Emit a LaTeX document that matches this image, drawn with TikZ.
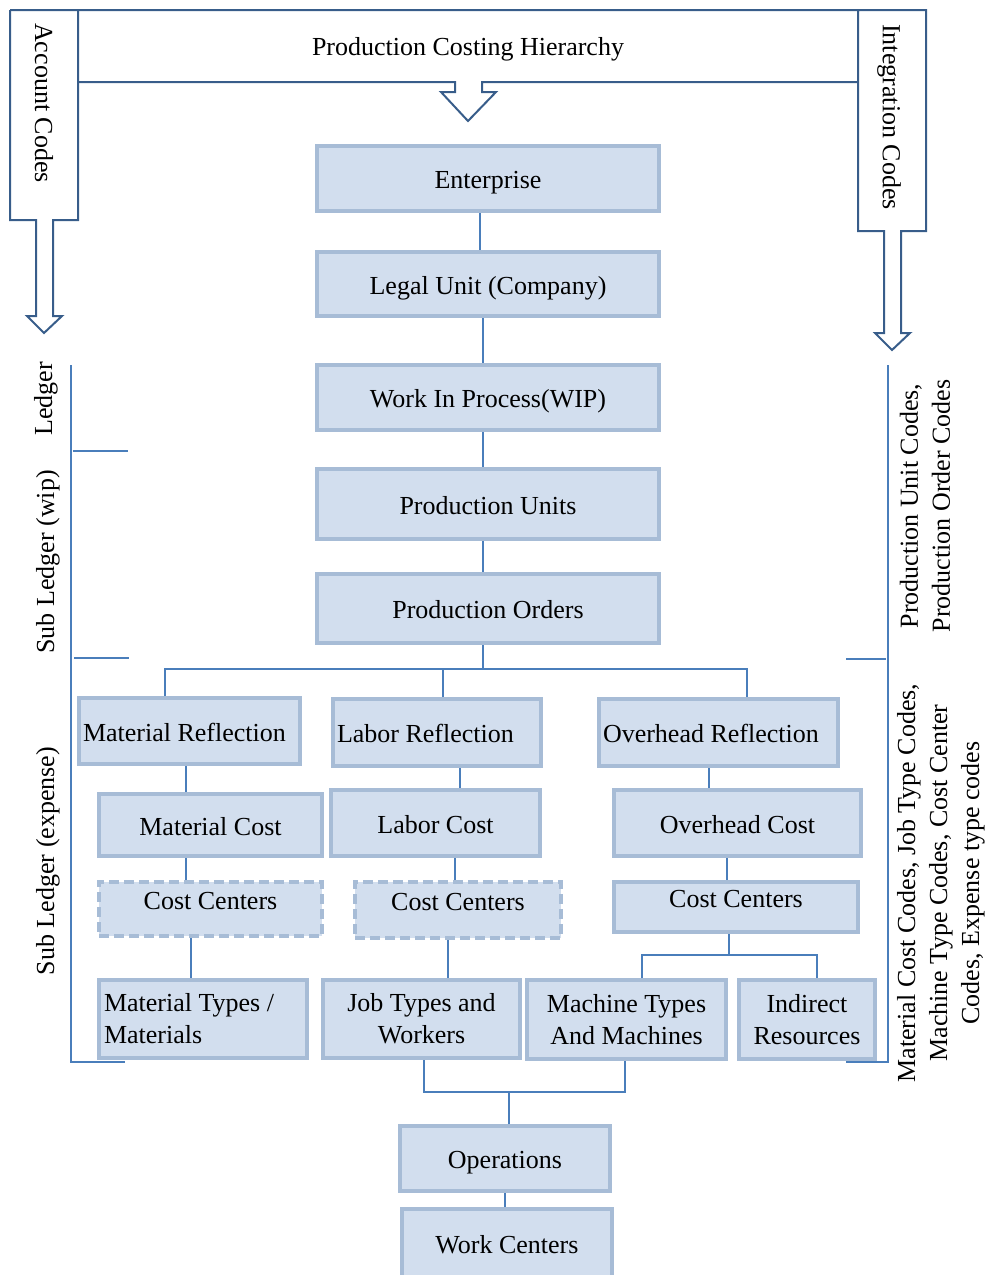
\documentclass[tikz,border=0pt]{standalone}
\usepackage{fontspec}
\setmainfont{Liberation Serif}
\usetikzlibrary{calc}
\definecolor{outline}{HTML}{385D8A}
\definecolor{linkblue}{HTML}{4A7EBB}
\definecolor{boxfill}{HTML}{D2DEEE}
\definecolor{boxedge}{HTML}{A7BCD6}
\tikzset{
  box/.style={draw=boxedge, fill=boxfill, line width=4pt, inner sep=0pt,
    align=center, font=\fontsize{26}{32}\selectfont},
  oneline/.style={text height=20pt, text depth=0pt},
  dashbox/.style={box, dash pattern=on 10pt off 5pt},
  ccbox/.style={text height=12pt, text depth=12pt},
  conn/.style={draw=linkblue, line width=2pt},
  banner/.style={draw=outline, line width=2pt, line join=miter},
  bracket/.style={draw=linkblue, line width=2pt},
  lbl/.style={font=\fontsize{26}{32}\selectfont, inner sep=0pt, align=center}
}
\begin{document}
\begin{tikzpicture}[x=1pt,y=-1pt]
\useasboundingbox (0,0) rectangle (991,1275);

% banner with the three hollow arrows
\draw[banner] (10,10) -- (10,220) -- (36,220) -- (36,316) -- (27,316) -- (44,333)
  -- (62,316) -- (53,316) -- (53,220) -- (78,220) -- (78,10);
\draw[banner] (78,82) -- (455,82) -- (455,92) -- (441,92) -- (468,121) -- (496,92)
  -- (482,92) -- (482,82) -- (858,82);
\draw[banner] (858,10) -- (858,231) -- (884,231) -- (884,333) -- (875,333) -- (892,350)
  -- (910,333) -- (901,333) -- (901,231) -- (926,231) -- (926,10) -- (10,10);
\node[lbl] (title) at (468,49) {Production Costing Hierarchy};
\node[lbl, rotate=-90] (acc) at (44,103) {Account Codes};
\node[lbl, rotate=-90] (integ) at (889,117) {Integration Codes};

% ledger brackets
\draw[bracket] (71,365) -- (71,1062) -- (125,1062);
\draw[bracket] (73,451) -- (128,451);
\draw[bracket] (74,658) -- (129,658);
\draw[bracket] (888,365) -- (888,1062) -- (846,1062);
\draw[bracket] (846,659) -- (886,659);
\node[lbl, rotate=90] (led) at (46,399) {Ledger};
\node[lbl, rotate=90] (subwip) at (48,562) {Sub Ledger (wip)};
\node[lbl, rotate=90] (subexp) at (48,861) {Sub Ledger (expense)};
\node[lbl, rotate=90] (pucodes) at (925,506) {Production Unit Codes,\\Production Order Codes};
\node[lbl, rotate=90] (expcodes) at (941,883) {Material Cost Codes, Job Type Codes,\\Machine Type Codes, Cost Center\\Codes, Expense type codes};

% hierarchy boxes
\node[box, oneline, minimum width=342pt, minimum height=65pt] (ent) at (488,178.5) {Enterprise};
\node[box, oneline, minimum width=342pt, minimum height=64pt] (legal) at (488,284) {Legal Unit (Company)};
\node[box, oneline, minimum width=342pt, minimum height=65pt] (wip) at (488,397.5) {Work In Process(WIP)};
\node[box, oneline, minimum width=342pt, minimum height=70pt] (pu) at (488,504) {Production Units};
\node[box, oneline, minimum width=342pt, minimum height=69pt] (po) at (488,608.5) {Production Orders};

\node[box, oneline, minimum width=221pt, minimum height=66pt, text width=213pt, align=flush left] (mr) at (189.5,731) {Material Reflection};
\node[box, oneline, minimum width=208pt, minimum height=67pt, text width=200pt, align=flush left] (lr) at (437,732.5) {Labor Reflection};
\node[box, oneline, minimum width=239pt, minimum height=67pt, text width=231pt, align=flush left] (or) at (718.5,732.5) {Overhead Reflection};

\node[box, oneline, minimum width=223pt, minimum height=62pt] (mc) at (210.5,825) {Material Cost};
\node[box, oneline, minimum width=209pt, minimum height=66pt] (lc) at (435.5,823) {Labor Cost};
\node[box, oneline, minimum width=247pt, minimum height=66pt] (oc) at (737.5,823) {Overhead Cost};

\node[dashbox, ccbox, minimum width=223pt, minimum height=54pt] (cc1) at (210.5,909) {Cost Centers};
\node[dashbox, ccbox, minimum width=206pt, minimum height=56pt] (cc2) at (458,910) {Cost Centers};
\node[box, ccbox, minimum width=244pt, minimum height=50pt] (cc3) at (736,907) {Cost Centers};

\node[box, minimum width=208pt, minimum height=78pt, text width=198pt, align=flush left] (mt) at (203,1019) {Material Types /\\Materials};
\node[box, minimum width=197pt, minimum height=78pt] (jt) at (421.5,1019) {Job Types and\\Workers};
\node[box, minimum width=199pt, minimum height=79pt] (mm) at (626.5,1019.5) {Machine Types\\And Machines};
\node[box, minimum width=136pt, minimum height=79pt] (ir) at (807,1019.5) {Indirect\\Resources};

\node[box, oneline, minimum width=210pt, minimum height=65pt] (ops) at (505,1158.5) {Operations};
\node[box, oneline, minimum width=210pt, minimum height=68pt] (wc) at (507,1243) {Work Centers};

% connectors
\draw[conn] ([xshift=-8pt]ent.south) -- ([xshift=-8pt]ent.south |- legal.north);
\draw[conn] ([xshift=-5pt]legal.south) -- ([xshift=-5pt]legal.south |- wip.north);
\draw[conn] ([xshift=-5pt]wip.south) -- ([xshift=-5pt]wip.south |- pu.north);
\draw[conn] ([xshift=-5pt]pu.south) -- ([xshift=-5pt]pu.south |- po.north);
\draw[conn] ([xshift=-5pt]po.south) -- ++(0,25);
\draw[conn] ([xshift=-24.5pt]mr.north) -- ++(0,-27) -| ([xshift=28.5pt]or.north);
\draw[conn] ([xshift=6pt]lr.north) -- ++(0,-28);

\draw[conn] ([xshift=-3.5pt]mr.south) -- ([xshift=-3.5pt]mr.south |- mc.north);
\draw[conn] ([xshift=23pt]lr.south) -- ([xshift=23pt]lr.south |- lc.north);
\draw[conn] ([xshift=-9.5pt]or.south) -- ([xshift=-9.5pt]or.south |- oc.north);

\draw[conn] ([xshift=-24.5pt]mc.south) -- ([xshift=-24.5pt]mc.south |- cc1.north);
\draw[conn] ([xshift=19.5pt]lc.south) -- ([xshift=19.5pt]lc.south |- cc2.north);
\draw[conn] ([xshift=-10.5pt]oc.south) -- ([xshift=-10.5pt]oc.south |- cc3.north);

\draw[conn] ([xshift=-19.5pt]cc1.south) -- ([xshift=-19.5pt]cc1.south |- mt.north);
\draw[conn] ([xshift=-10pt]cc2.south) -- ([xshift=-10pt]cc2.south |- jt.north);
\draw[conn] ([xshift=-7pt]cc3.south) -- ++(0,21);
\draw[conn] ([xshift=15.5pt]mm.north) -- ++(0,-23) -| ([xshift=10pt]ir.north);

\draw[conn] ([xshift=2.5pt]jt.south) -- ++(0,32) -| ([xshift=-1.5pt]mm.south);
\draw[conn] ([xshift=4pt]ops.north) -- ++(0,-32);
\draw[conn] (ops.south) -- (ops.south |- wc.north);
\end{tikzpicture}
\end{document}
